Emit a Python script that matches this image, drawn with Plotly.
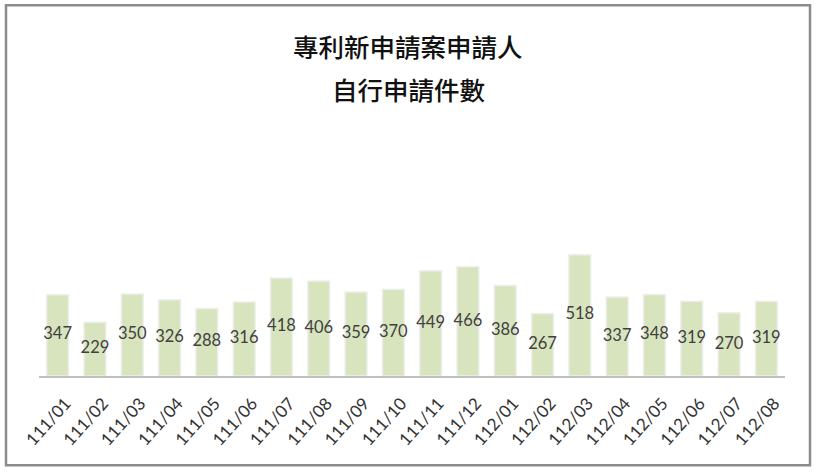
import plotly.graph_objects as go

categories = ["111/01", "111/02", "111/03", "111/04", "111/05", "111/06", "111/07",
              "111/08", "111/09", "111/10", "111/11", "111/12", "112/01", "112/02",
              "112/03", "112/04", "112/05", "112/06", "112/07", "112/08"]
values = [347, 229, 350, 326, 288, 316, 418, 406, 359, 370, 449, 466, 386, 267,
          518, 337, 348, 319, 270, 319]
title_lines = ["專利新申請案申請人", "自行申請件數"]

W, H = 817, 472
left, right, top, bottom = 39, 817 - 785, 120, 472 - 376.5
pw = W - left - right
ph = H - top - bottom

def px_to_paper_x(px):
    return (px - left) / pw

def px_to_paper_y(py):
    return (H - bottom - py) / ph

fig = go.Figure()
fig.add_trace(go.Bar(
    x=categories, y=values,
    marker=dict(color="#D7E4BD", line=dict(color="#EEF0EE", width=1.5)),
    hoverinfo="x+y", showlegend=False,
))
fig.add_trace(go.Scatter(
    x=categories, y=[v / 2 for v in values],
    mode="text", text=[str(v) for v in values],
    textfont=dict(family="Lato, Open Sans, sans-serif", size=16.5, color="#404040"),
    hoverinfo="skip", showlegend=False, cliponaxis=False,
))

for line, py in zip(title_lines, [45, 88]):
    fig.add_annotation(
        x=px_to_paper_x(408), y=px_to_paper_y(py), xref="paper", yref="paper",
        text=line, showarrow=False, xanchor="center", yanchor="middle",
        font=dict(family="Noto Sans CJK TC, sans-serif", size=25.5, color="#111111",
                  weight=500),
    )

fig.add_shape(
    type="rect", xref="paper", yref="paper",
    x0=px_to_paper_x(6), x1=px_to_paper_x(810),
    y0=px_to_paper_y(466), y1=px_to_paper_y(5),
    line=dict(color="#8c8c8c", width=2.5), fillcolor="rgba(0,0,0,0)", layer="below",
)

fig.update_layout(
    width=W, height=H,
    margin=dict(l=left, r=right, t=top, b=bottom, pad=0, autoexpand=False),
    paper_bgcolor="white", plot_bgcolor="white",
    bargap=0.41,
    xaxis=dict(
        type="category", range=[-0.5, len(categories) - 0.5],
        showgrid=False, showline=True, linecolor="#BFBFBF",
        linewidth=1.5, ticks="", tickangle=-48, automargin=False,
        ticklabelshift=8, ticklabelstandoff=9,
        tickfont=dict(family="Lato, Open Sans, sans-serif", size=17, color="#333333"),
        fixedrange=True,
    ),
    yaxis=dict(range=[0, 1093], visible=False, fixedrange=True, automargin=False),
)

fig.write_html(
    "out.html",
    config={"displayModeBar": False},
    post_script="document.body.style.margin='0px';document.body.style.overflow='hidden';",
)
